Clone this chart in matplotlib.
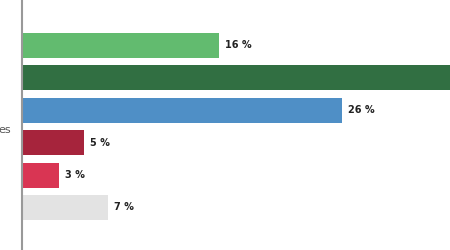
import matplotlib
matplotlib.use("Agg")
import matplotlib.pyplot as plt

categories = ["A", "B", "C", "D", "E", "F"]
values = [16, 43, 26, 5, 3, 7]
labels = ["16 %", "43 %", "26 %", "5 %", "3 %", "7 %"]
colors = ["#62bb6f", "#316f42", "#4f8fc6", "#a6243c", "#d93553", "#e3e3e3"]

fig = plt.figure(figsize=(4.5, 2.5), dpi=100)
ax = fig.add_axes([22/450, 0, 1 - 22/450, 1])
ypos = list(range(len(values)))
ax.barh(ypos, values, height=0.77, color=colors, zorder=2)
for y, v, lab in zip(ypos, values, labels):
    ax.text(v + 0.5, y, lab, va="center", ha="left", fontsize=7,
            fontweight="bold", color="#222222", clip_on=True)
ax.set_xlim(0, 428/12.3)
ax.set_ylim(5 + 42.5/32.4, -45.5/32.4)
for s in ["top", "right", "bottom"]:
    ax.spines[s].set_visible(False)
ax.spines["left"].set_color("#999999")
ax.spines["left"].set_linewidth(1.5)
ax.spines["left"].set_zorder(3)
ax.set_xticks([])
ax.set_yticks([])
fig.text(11/450, 1 - 130/250, "es", ha="right", va="center", fontsize=8, color="#555555")
fig.savefig("out.png", dpi=100)
